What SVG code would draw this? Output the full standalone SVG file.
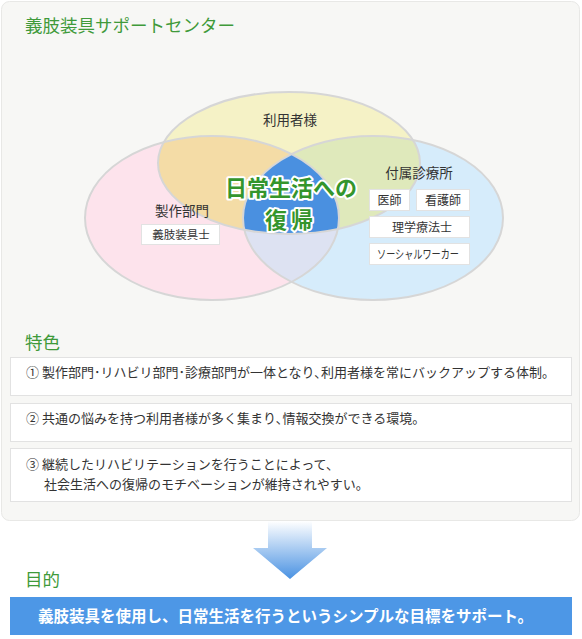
<svg xmlns="http://www.w3.org/2000/svg" width="582" height="639" viewBox="0 0 582 639">
<defs>
<style>
text{font-family:"Noto Sans CJK JP","Noto Sans",sans-serif}
.t{fill:#333}
.g{fill:#3f9a3a;font-size:17.5px}
.box{fill:#fff;stroke:#e2e2e2;stroke-width:1}
.ring{fill:none;stroke:#d6d6d6;stroke-width:2}
.c{fill:#34952c;stroke:#fff;stroke-width:4;paint-order:stroke;stroke-linejoin:round;font-weight:bold;font-size:22px}
</style>
<clipPath id="cY"><ellipse cx="289" cy="163" rx="131" ry="71"/></clipPath>
<clipPath id="cP"><ellipse cx="212" cy="218" rx="127" ry="82"/></clipPath>
<linearGradient id="ag" x1="0" y1="0" x2="0" y2="1">
<stop offset="0" stop-color="#ffffff"/>
<stop offset="1" stop-color="#4a92e2"/>
</linearGradient>
</defs>
<rect x="1.5" y="1.5" width="578" height="519" rx="8" fill="#f7f7f5" stroke="#e8e8e6"/>
<text class="g" x="25" y="32" font-size="18">義肢装具サポートセンター</text>
<g id="venn">
<ellipse cx="289" cy="163" rx="131" ry="71" fill="#f5f2c6"/>
<ellipse cx="212" cy="218" rx="127" ry="82" fill="#fde3ec"/>
<ellipse cx="373" cy="218" rx="130" ry="82" fill="#d6ecfb"/>
<g clip-path="url(#cY)"><ellipse cx="212" cy="218" rx="127" ry="82" fill="#f4dca6"/></g>
<g clip-path="url(#cY)"><ellipse cx="373" cy="218" rx="130" ry="82" fill="#dfe9bb"/></g>
<g clip-path="url(#cP)"><ellipse cx="373" cy="218" rx="130" ry="82" fill="#dde2f2"/></g>
<g clip-path="url(#cY)"><g clip-path="url(#cP)"><ellipse cx="373" cy="218" rx="130" ry="82" fill="#4a90e0"/></g></g>
<ellipse class="ring" cx="289" cy="163" rx="131" ry="71"/>
<ellipse class="ring" cx="212" cy="218" rx="127" ry="82"/>
<ellipse class="ring" cx="373" cy="218" rx="130" ry="82"/>
</g>
<g id="users"><text class="t" x="290" y="125" text-anchor="middle" font-size="13.5">利用者様</text></g>
<g id="seisaku">
<text class="t" x="182" y="216" text-anchor="middle" font-size="13.5">製作部門</text>
<rect class="box" x="141.5" y="224.5" width="78" height="20"/>
<text class="t" x="181" y="239" text-anchor="middle" font-size="11.5">義肢装具士</text>
</g>
<g id="clinic">
<text class="t" x="419" y="178" text-anchor="middle" font-size="13.5">付属診療所</text>
<rect class="box" x="369.5" y="189.5" width="40" height="21"/>
<text class="t" x="389.5" y="205" text-anchor="middle" font-size="12">医師</text>
<rect class="box" x="416.5" y="189.5" width="53" height="21"/>
<text class="t" x="443" y="205" text-anchor="middle" font-size="12">看護師</text>
<rect class="box" x="369.5" y="216.5" width="100" height="21"/>
<text class="t" x="422" y="232" text-anchor="middle" font-size="12">理学療法士</text>
<rect class="box" x="369.5" y="243.5" width="100" height="21"/>
<text class="t" x="377" y="259" font-size="12" textLength="82" lengthAdjust="spacingAndGlyphs">ソーシャルワーカー</text>
</g>
<g id="center" text-anchor="middle">
<text class="c" x="291" y="196">日常生活への</text>
<text class="c" x="291" y="228" letter-spacing="4">復帰</text>
</g>
<text class="g" x="25" y="349">特色</text>
<g id="f1">
<rect class="box" x="10.5" y="357.5" width="561" height="38"/>
<text class="t" x="26" y="377" font-size="13">① 製作部門･リハビリ部門･診療部門が一体となり､利用者様を常にバックアップする体制。</text>
</g>
<g id="f2">
<rect class="box" x="10.5" y="403.5" width="561" height="38"/>
<text class="t" x="26" y="423" font-size="13">② 共通の悩みを持つ利用者様が多く集まり､情報交換ができる環境。</text>
</g>
<g id="f3">
<rect class="box" x="10.5" y="448.5" width="561" height="53"/>
<text class="t" x="26" y="469" font-size="13">③ 継続したリハビリテーションを行うことによって、</text>
<text class="t" x="44" y="489" font-size="13">社会生活への復帰のモチベーションが維持されやすい。</text>
</g>
<g id="connectors">
<path d="M268 521 H312 V548 H327 L290 579 L253 548 H268 Z" fill="url(#ag)"/>
</g>
<text class="g" x="25" y="586">目的</text>
<g id="goal">
<rect x="10" y="597" width="562" height="38" fill="#4d97e6"/>
<text x="285.5" y="622" text-anchor="middle" font-weight="bold" font-size="15.5" fill="#fff">義肢装具を使用し、日常生活を行うというシンプルな目標をサポート。</text>
</g>
</svg>
